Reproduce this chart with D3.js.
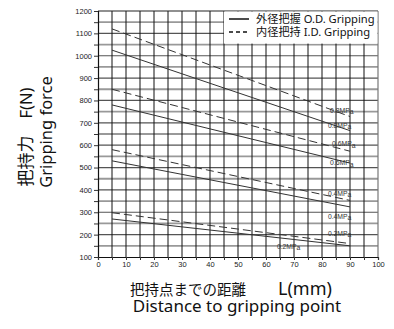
<!DOCTYPE html>
<html>
<head>
<meta charset="utf-8">
<script src="https://cdn.jsdelivr.net/npm/d3@7"></script>
<style>
  body { margin: 0; background: #fff; }
  svg { display: block; }
</style>
</head>
<body>
<div id="chart"></div>
<script>
// distance to gripping point (mm) where each line starts / ends
const distances = [5, 90];
const pressures = ["0.8", "0.6", "0.4", "0.2"];
// I.D. gripping (dashed), force in N
const idForce = [[1120, 728], [850, 573], [580, 353], [298, 160]];
// O.D. gripping (solid), force in N
const odForce = [[1025, 665], [780, 520], [530, 324], [270, 150]];
const xTicks = [0, 10, 20, 30, 40, 50, 60, 70, 80, 90, 100];
const yTicks = [100, 200, 300, 400, 500, 600, 700, 800, 900, 1000, 1100, 1200];

const W = 394, H = 329;
const svg = d3.select("#chart").append("svg")
  .attr("width", W).attr("height", H);

const x = d3.scaleLinear().domain([0, 100]).range([98, 378]);
const y = d3.scaleLinear().domain([100, 1200]).range([257, 11]);

// grid: horizontal every 50, vertical every 5
const hGrid = d3.range(150, 1200, 50);
svg.append("g").selectAll("line").data(hGrid).enter().append("line")
  .attr("x1", x(0)).attr("x2", x(100))
  .attr("y1", d => y(d)).attr("y2", d => y(d))
  .attr("stroke", d => d % 100 === 0 ? "#555" : "#999")
  .attr("stroke-width", d => d % 100 === 0 ? 1.2 : 1.8);

const vGrid = d3.range(5, 100, 5);
svg.append("g").selectAll("line").data(vGrid).enter().append("line")
  .attr("x1", d => x(d)).attr("x2", d => x(d))
  .attr("y1", y(100)).attr("y2", y(1200))
  .attr("stroke", "#111").attr("stroke-width", 1);

// frame
svg.append("line").attr("x1", x(0)).attr("x2", x(100)).attr("y1", y(1200)).attr("y2", y(1200))
  .attr("stroke", "#222").attr("stroke-width", 1.2);
svg.append("line").attr("x1", x(100)).attr("x2", x(100)).attr("y1", y(1200)).attr("y2", y(100))
  .attr("stroke", "#777").attr("stroke-width", 1.2);

// legend box covers grid
svg.append("rect").attr("x", 224).attr("y", y(1200) + 0.6)
  .attr("width", x(100) - 224 - 0.6).attr("height", 32).attr("fill", "#fff");

// axes
const tickFont = "'Liberation Sans', Arial, sans-serif";
const yAxis = svg.append("g")
  .attr("transform", `translate(${x(0)},0)`)
  .call(d3.axisLeft(y).tickValues(d3.range(100, 1201, 50)).tickSize(4)
    .tickFormat(d => yTicks.includes(d) ? d : ""));
const xAxis = svg.append("g")
  .attr("transform", `translate(0,${y(100)})`)
  .call(d3.axisBottom(x).tickValues(d3.range(0, 101, 5)).tickSize(3)
    .tickFormat(d => xTicks.includes(d) ? d : ""));
[yAxis, xAxis].forEach(a => {
  a.select(".domain").attr("stroke", "#111").attr("stroke-width", 1.2);
  a.selectAll(".tick line").attr("stroke", "#333");
  a.selectAll("text").attr("font-family", tickFont).attr("font-size", 7.5).attr("fill", "#222");
});
yAxis.selectAll("text").attr("x", -6);
xAxis.selectAll("text").attr("y", 5);

// force lines
const line = d3.line().x(d => x(d[0])).y(d => y(d[1]));
const series = [];
pressures.forEach((p, i) => {
  series.push({ kind: "id", p, pts: distances.map((dd, j) => [dd, idForce[i][j]]) });
  series.push({ kind: "od", p, pts: distances.map((dd, j) => [dd, odForce[i][j]]) });
});
svg.append("g").selectAll("path").data(series).enter().append("path")
  .attr("d", d => line(d.pts))
  .attr("fill", "none").attr("stroke", "#333").attr("stroke-width", 1)
  .attr("stroke-dasharray", d => d.kind === "id" ? "8,4" : null);

// pressure labels (anchor in data units)
const labelAt = [
  [82.9, 744, "0.8"], [82.1, 677, "0.8"],
  [83.6, 596, "0.6"], [82.9, 511, "0.6"],
  [82.1, 373, "0.4"], [82.1, 270, "0.4"],
  [82.1, 194, "0.2"], [63.9, 136, "0.2"]
];
const lbl = svg.append("g").selectAll("text").data(labelAt).enter().append("text")
  .attr("x", d => x(d[0])).attr("y", d => y(d[1]))
  .attr("font-family", tickFont).attr("font-size", 6.8).attr("fill", "#333");
lbl.append("tspan").text(d => d[2] + "MP");
lbl.append("tspan").attr("dy", 1.5).text("a");

// legend
const legFont = "'Noto Sans', 'Noto Sans CJK JP', sans-serif";
const leg = [
  { t: "外径把握 O.D. Gripping", dash: null, yy: 22.5 },
  { t: "内径把持 I.D. Gripping", dash: "4,3", yy: 35.5 }
];
leg.forEach(l => {
  svg.append("line").attr("x1", 229).attr("x2", 249).attr("y1", l.yy - 3.5).attr("y2", l.yy - 3.5)
    .attr("stroke", "#111").attr("stroke-width", 1.5).attr("stroke-dasharray", l.dash);
  svg.append("text").attr("x", 256).attr("y", l.yy)
    .attr("font-family", legFont).attr("font-size", 11.2).attr("fill", "#111").text(l.t);
});

// axis titles
const latin = "'Noto Sans', sans-serif";
const cjk = "'Noto Sans CJK JP', sans-serif";
const yt1 = svg.append("text")
  .attr("transform", "translate(32,137) rotate(-90)")
  .attr("text-anchor", "middle").attr("fill", "#111");
yt1.append("tspan").attr("font-family", cjk).attr("font-size", 17).text("把持力　");
yt1.append("tspan").attr("font-family", latin).attr("font-size", 16.5).text("F(N)");
svg.append("text")
  .attr("transform", "translate(52,132) rotate(-90)")
  .attr("text-anchor", "middle")
  .attr("font-family", latin).attr("font-size", 16.5).attr("fill", "#111")
  .text("Gripping force");

svg.append("text")
  .attr("x", 130).attr("y", 294.5)
  .attr("font-family", cjk).attr("font-size", 14.5).attr("fill", "#111")
  .text("把持点までの距離");
svg.append("text")
  .attr("x", 278).attr("y", 294.5)
  .attr("font-family", latin).attr("font-size", 18).attr("fill", "#111")
  .text("L(mm)");
svg.append("text")
  .attr("x", 237).attr("y", 312)
  .attr("text-anchor", "middle")
  .attr("font-family", latin).attr("font-size", 17).attr("fill", "#111")
  .text("Distance to gripping point");
</script>
</body>
</html>
